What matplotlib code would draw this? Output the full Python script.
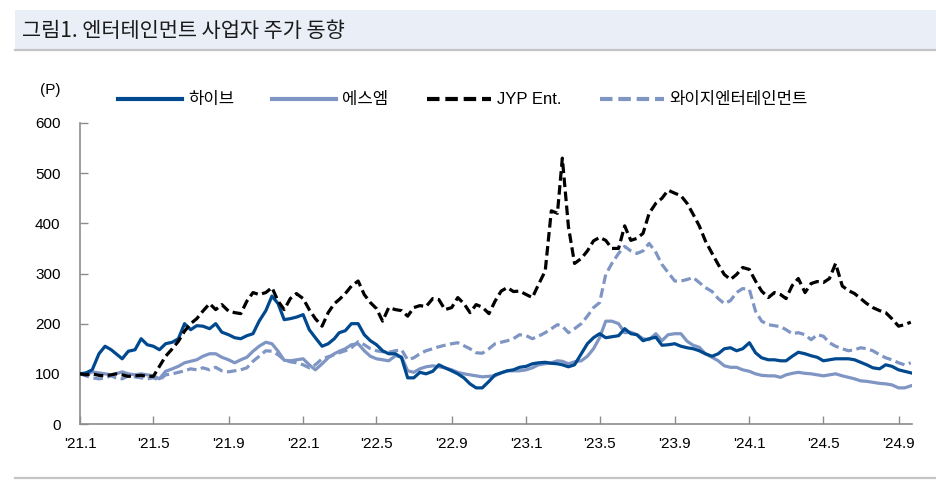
import matplotlib
matplotlib.use("Agg")
import matplotlib.pyplot as plt
from matplotlib.patches import Rectangle
from matplotlib.lines import Line2D
import pandas as pd

plt.rcParams['font.family'] = ['Liberation Sans', 'Noto Sans CJK KR', 'DejaVu Sans']

# 3 readings per month (1st, 11th, 21st), Jan 2021 - Sep 2024, index 2021.1.1 = 100
hybe = [100, 102, 108, 140, 155, 148, 140, 130, 145, 148, 170, 158,
        155, 148, 160, 163, 170, 200, 188, 196, 195, 190, 200, 183,
        178, 172, 170, 176, 180, 205, 226, 255, 240, 208, 210, 213,
        218, 188, 172, 155, 160, 170, 182, 186, 200, 200, 178, 166,
        158, 146, 140, 140, 132, 92, 92, 103, 100, 105, 118, 112,
        106, 100, 92, 80, 72, 72, 85, 98, 102, 106, 108, 113,
        115, 120, 122, 123, 121, 120, 118, 114, 118, 140, 160, 172,
        180, 172, 174, 176, 190, 180, 178, 166, 170, 173, 157, 158,
        160, 155, 152, 150, 146, 140, 135, 140, 150, 152, 146, 150,
        162, 142, 132, 128, 128, 126, 126, 135, 143, 140, 136, 133,
        126, 128, 130, 130, 130, 128, 123, 118, 112, 110, 118, 115,
        108, 105, 102]
sm = [100, 98, 104, 102, 100, 98, 100, 104, 100, 98, 100, 98,
      96, 90, 105, 110, 115, 122, 125, 128, 135, 140, 140, 133,
      128, 122, 128, 133, 145, 155, 163, 160, 145, 127, 126, 128,
      130, 118, 108, 120, 132, 140, 145, 150, 158, 160, 146, 135,
      130, 128, 126, 136, 134, 106, 103, 110, 114, 116, 114, 112,
      108, 103, 100, 98, 96, 94, 95, 96, 102, 106, 106, 106,
      108, 112, 118, 120, 122, 126, 125, 120, 124, 126, 135, 150,
      172, 205, 205, 200, 182, 183, 178, 170, 168, 180, 166, 178,
      180, 180, 165, 157, 153, 140, 133, 126, 116, 113, 113, 108,
      105, 100, 97, 96, 96, 93, 98, 101, 103, 101, 100, 98,
      96, 98, 100, 96, 93, 90, 86, 85, 83, 81, 80, 78,
      72, 72, 76]
jyp = [100, 98, 100, 97, 96, 98, 100, 98, 95, 96, 97, 95,
       95, 115, 135, 150, 165, 185, 200, 210, 225, 240, 228, 238,
       225, 222, 220, 245, 262, 258, 262, 272, 245, 228, 250, 260,
       250, 228, 210, 195, 222, 240, 248, 260, 275, 285, 258, 242,
       230, 205, 232, 228, 226, 215, 232, 236, 234, 250, 248, 228,
       232, 252, 240, 222, 238, 233, 220, 245, 265, 272, 264, 265,
       258, 252, 278, 305, 425, 420, 530, 393, 320, 330, 345, 365,
       372, 366, 350, 350, 395, 366, 370, 380, 420, 440, 450, 466,
       460, 455, 440, 418, 395, 365, 340, 318, 298, 288, 298, 312,
       308, 285, 265, 252, 262, 258, 250, 276, 290, 262, 280, 284,
       282, 290, 320, 275, 266, 260, 250, 240, 232, 226, 222, 210,
       195, 198, 203]
yg = [100, 96, 92, 90, 92, 96, 92, 90, 96, 94, 92, 90,
      92, 88, 98, 100, 103, 106, 110, 108, 112, 108, 113, 106,
      104, 106, 108, 112, 125, 135, 146, 145, 138, 128, 124, 122,
      118, 112, 118, 130, 134, 138, 142, 146, 152, 164, 158, 150,
      146, 144, 143, 146, 148, 128, 132, 140, 146, 150, 154, 157,
      160, 162, 156, 150, 142, 141, 150, 160, 163, 166, 170, 178,
      176, 170, 175, 182, 190, 198, 195, 182, 190, 200, 215, 232,
      242, 298, 320, 340, 354, 345, 340, 345, 360, 342, 318, 302,
      285, 285, 288, 292, 282, 272, 264, 250, 240, 246, 262, 270,
      268, 225, 205, 198, 196, 194, 188, 180, 182, 178, 168, 178,
      175, 162, 155, 150, 146, 148, 152, 150, 146, 138, 132, 128,
      122, 118, 122]

months = pd.date_range("2021-01-01", "2024-09-01", freq="MS")
dates = [m + pd.Timedelta(days=d) for m in months for d in (0, 10, 20)]

tick_dates = pd.to_datetime(["2021-01-01", "2021-05-01", "2021-09-01", "2022-01-01",
                             "2022-05-01", "2022-09-01", "2023-01-01", "2023-05-01",
                             "2023-09-01", "2024-01-01", "2024-05-01", "2024-09-01"])
tick_labels = ["'21.1", "'21.5", "'21.9", "'22.1", "'22.5", "'22.9",
               "'23.1", "'23.5", "'23.9", "'24.1", "'24.5", "'24.9"]

dark = "#00498f"
light = "#7f95c4"

fig = plt.figure(figsize=(9.36, 4.87), dpi=100)
ax = fig.add_axes([80 / 936, 63 / 487, 832 / 936, 301 / 487])

# title band
fig.patches.append(Rectangle((15 / 936, 1 - 50 / 487), 1 - 15 / 936, 40 / 487,
                             transform=fig.transFigure, facecolor="#eaeff7",
                             edgecolor="none", zorder=0))
fig.lines.append(Line2D([15 / 936, 1], [1 - 50 / 487] * 2, transform=fig.transFigure,
                        color="#c4c4c4", lw=1.6))
fig.lines.append(Line2D([15 / 936, 1], [1 - 478 / 487] * 2, transform=fig.transFigure,
                        color="#c4c4c4", lw=1.6))
fig.text(22 / 936, 1 - 31 / 487, "그림1. 엔터테인먼트 사업자 주가 동향", fontsize=15,
         family=['Noto Sans CJK KR', 'DejaVu Sans'], va="center", ha="left", color="#1a1a1a")
fig.text(50 / 936, 1 - 90 / 487, "(P)", fontsize=11, ha="center", va="center")

ax.plot(dates, yg, color=light, lw=2.3, ls=(0, (3.0, 1.4)), label="와이지엔터테인먼트", zorder=2)
ax.plot(dates, sm, color=light, lw=2.3, label="에스엠", zorder=3)
ax.plot(dates, hybe, color=dark, lw=2.3, label="하이브", zorder=4)
ax.plot(dates, jyp, color="black", lw=2.3, ls=(0, (3.0, 1.4)), label="JYP Ent.", zorder=5)

ax.set_ylim(0, 600)
ax.set_yticks(range(0, 601, 100))
ax.set_xlim(pd.Timestamp("2021-01-01"), pd.Timestamp("2024-09-23"))
ax.set_xticks(tick_dates)
ax.set_xticklabels(tick_labels)

for s in ["top", "right"]:
    ax.spines[s].set_visible(False)
for s in ["left", "bottom"]:
    ax.spines[s].set_color("#8c8c8c")
    ax.spines[s].set_linewidth(1.2)
ax.tick_params(axis="both", direction="in", length=6, color="#8c8c8c", width=1, labelsize=11)
ax.tick_params(axis="y", pad=14)
ax.tick_params(axis="x", pad=9)

handles, labels = ax.get_legend_handles_labels()
order = [2, 1, 3, 0]
leg = fig.legend([handles[i] for i in order], [labels[i] for i in order],
                 loc="center left", bbox_to_anchor=(118 / 936, 1 - 100 / 487), ncol=4,
                 frameon=False, handlelength=3.84, handletextpad=0.36,
                 columnspacing=2.3, borderpad=0, borderaxespad=0,
                 prop={"family": ['Liberation Sans', 'Noto Sans CJK KR', 'DejaVu Sans'],
                       "size": 12})
for h in leg.legend_handles:
    h.set_linewidth(3)

plt.savefig("out.png", dpi=100)
